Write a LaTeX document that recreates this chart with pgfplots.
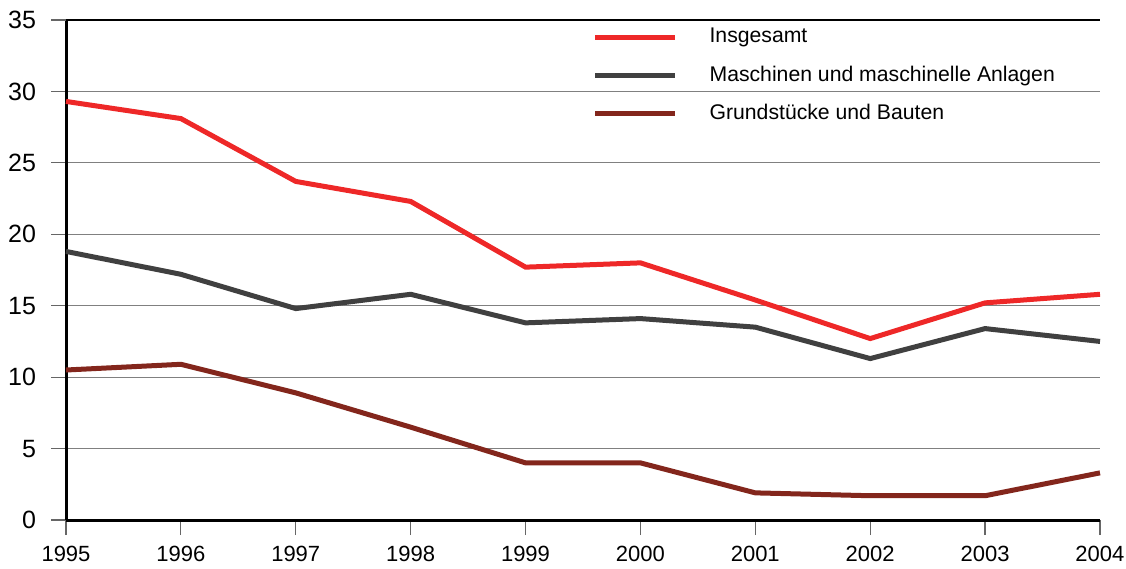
\documentclass[border=0pt]{standalone}
\usepackage{fontspec}
\setmainfont{Liberation Sans}
\usepackage{pgfplots}
\pgfplotsset{compat=1.18}
\definecolor{cred}{RGB}{238,40,40}
\definecolor{cgray}{RGB}{64,64,64}
\definecolor{cbrown}{RGB}{131,38,28}
\begin{document}
\begin{tikzpicture}
\begin{axis}[
  scale only axis,
  width=517pt, height=250pt,
  xmin=1995, xmax=2004, ymin=0, ymax=35,
  axis lines=left,
  axis line style={-, line width=1.5pt, black},
  xtick={1995,...,2004},
  ytick={0,5,...,30},
  extra y ticks={35},
  extra y tick style={major grid style={black, line width=0.6pt}},
  ymajorgrids,
  major grid style={gray, line width=0.5pt},
  tick align=outside,
  major tick length=7.5pt,
  tick style={draw=gray!80!black, line width=0.6pt},
  /pgf/number format/assume math mode=true,
  xticklabel style={/pgf/number format/1000 sep={}, font=\fontsize{11pt}{13pt}\selectfont, yshift=-2pt},
  yticklabel style={font=\fontsize{12.5pt}{14pt}\selectfont, xshift=-4pt},
  legend style={at={(0.505,1)}, anchor=north west, draw=none, fill=none,
    font=\fontsize{10.6pt}{12pt}\selectfont, row sep=6pt, column sep=0pt,
    inner sep=2pt},
  legend cell align=left,
  legend image code/.code={\draw[#1] (0pt,0pt) -- (40pt,0pt);},
  every axis plot/.append style={line width=2.5pt},
  clip=false,
]
\addplot[cred] coordinates {(1995,29.3)(1996,28.1)(1997,23.7)(1998,22.3)(1999,17.7)(2000,18.0)(2001,15.4)(2002,12.7)(2003,15.2)(2004,15.8)};
\addlegendentry{\hspace{14pt}Insgesamt}
\addplot[cgray] coordinates {(1995,18.8)(1996,17.2)(1997,14.8)(1998,15.8)(1999,13.8)(2000,14.1)(2001,13.5)(2002,11.3)(2003,13.4)(2004,12.5)};
\addlegendentry{\hspace{14pt}Maschinen und maschinelle Anlagen}
\addplot[cbrown] coordinates {(1995,10.5)(1996,10.9)(1997,8.9)(1998,6.5)(1999,4.0)(2000,4.0)(2001,1.9)(2002,1.7)(2003,1.7)(2004,3.3)};
\addlegendentry{\hspace{14pt}Grundstücke und Bauten}
\end{axis}
\pgfresetboundingbox
\path[use as bounding box] (current axis.south west) ++(-33pt,-24pt) rectangle ([shift={(13pt,10pt)}]current axis.north east);
\end{tikzpicture}
\end{document}
